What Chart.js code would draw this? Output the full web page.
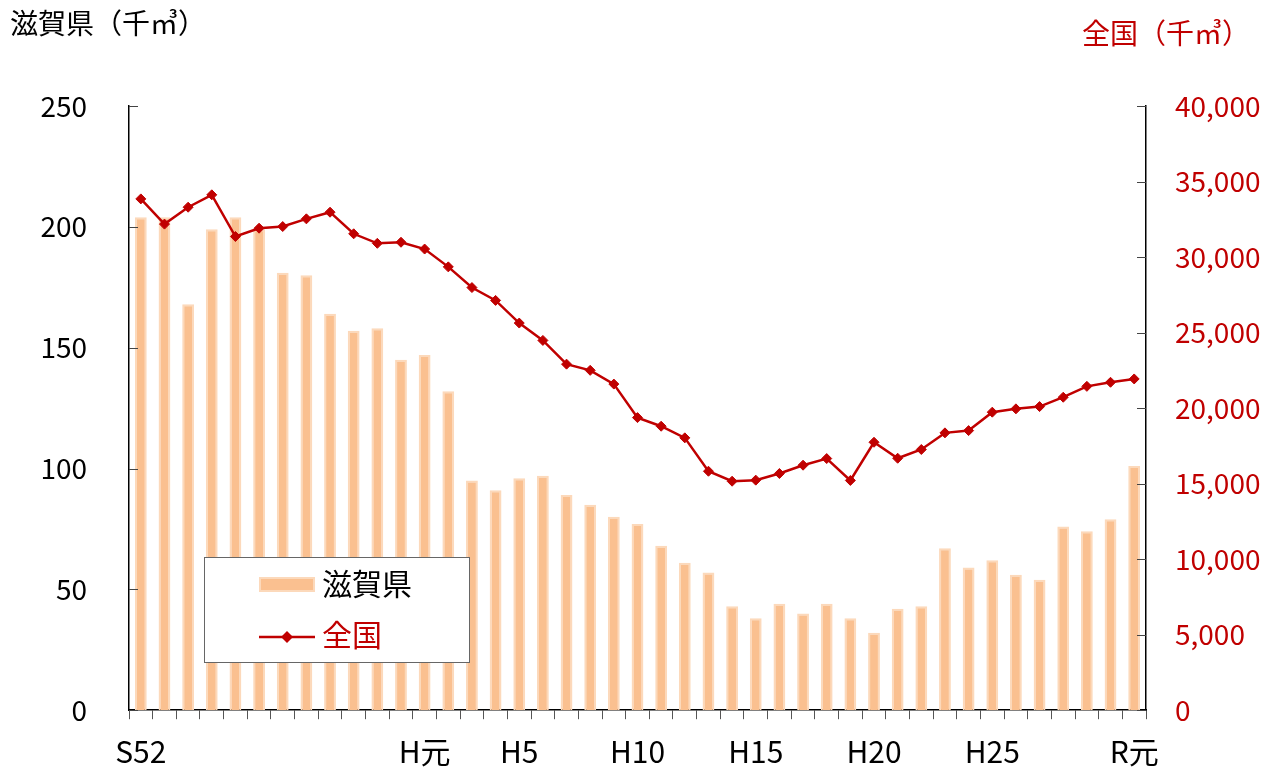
<!DOCTYPE html>
<html>
<head>
<meta charset="utf-8">
<script src="https://cdn.jsdelivr.net/npm/chart.js@4.4.0/dist/chart.umd.min.js"></script>
<style>
  html, body { margin: 0; padding: 0; background: #fff; }
</style>
</head>
<body>
<canvas id="chart" width="1267" height="769"></canvas>
<script>
// 年度ラベル S52〜S63, H元〜H30, R元
const years = []
for (let y = 52; y <= 63; y++) years.push("S" + y)
years.push("H元")
for (let y = 2; y <= 30; y++) years.push("H" + y)
years.push("R元")

const shownYears = ["S52", "H元", "H5", "H10", "H15", "H20", "H25", "R元"]

// 滋賀県 (千㎥)
const shigaValues = [204, 204, 168, 199, 204, 199, 181, 180, 164, 157, 158, 145,
  147, 132, 95, 91, 96, 97, 89, 85, 80, 77, 68, 61, 57, 43, 38, 44, 40, 44,
  38, 32, 42, 43, 67, 59, 62, 56, 54, 76, 74, 79, 101]

// 全国 (千㎥)
const nationalValues = [33850, 32180, 33300, 34120, 31360, 31910, 32020, 32530,
  32970, 31540, 30910, 30980, 30530, 29350, 27980, 27130, 25630, 24480, 22910,
  22500, 21590, 19370, 18800, 18030, 15820, 15160, 15230, 15670, 16220, 16660,
  15210, 17740, 16680, 17260, 18360, 18510, 19730, 19950, 20100, 20720, 21440,
  21710, 21930]

const RED = "#c00000"
const BAR_FILL = "#fac090"
const BAR_EDGE = "#fcd9bb"
const FONT = "'Noto Sans CJK JP', 'Noto Sans', sans-serif"

Chart.defaults.font.family = FONT

// inner tick marks on the two value axes
const innerTicks = {
  id: "innerTicks",
  afterDatasetsDraw(chart) {
    const ctx = chart.ctx
    const area = chart.chartArea
    ctx.save()
    ctx.strokeStyle = "#444"
    ctx.lineWidth = 1
    chart.scales.y.ticks.forEach(t => {
      const y = Math.round(chart.scales.y.getPixelForValue(t.value)) + 0.5
      ctx.beginPath()
      ctx.moveTo(area.left, y)
      ctx.lineTo(area.left + 9, y)
      ctx.stroke()
    })
    chart.scales.y1.ticks.forEach(t => {
      const y = Math.round(chart.scales.y1.getPixelForValue(t.value)) + 0.5
      ctx.beginPath()
      ctx.moveTo(area.right - 9, y)
      ctx.lineTo(area.right, y)
      ctx.stroke()
    })
    ctx.restore()
  },
}

// axis titles and legend box
const decorations = {
  id: "decorations",
  afterDraw(chart) {
    const ctx = chart.ctx
    ctx.save()
    ctx.textBaseline = "middle"
    ctx.font = "28px " + FONT
    ctx.fillStyle = "#000"
    ctx.textAlign = "left"
    ctx.fillText("滋賀県（千㎥）", 10, 23)
    ctx.fillStyle = RED
    ctx.fillText("全国（千㎥）", 1082, 33)

    // legend
    ctx.fillStyle = "#fff"
    ctx.fillRect(204.5, 557.5, 265, 105)
    ctx.strokeStyle = "#666"
    ctx.lineWidth = 1
    ctx.strokeRect(204.5, 557.5, 265, 105)

    ctx.fillStyle = BAR_FILL
    ctx.fillRect(260, 578, 54, 13)
    ctx.strokeStyle = BAR_EDGE
    ctx.lineWidth = 2
    ctx.strokeRect(260, 578, 54, 13)

    ctx.strokeStyle = RED
    ctx.lineWidth = 2.5
    ctx.beginPath()
    ctx.moveTo(259, 637)
    ctx.lineTo(315, 637)
    ctx.stroke()
    ctx.fillStyle = RED
    ctx.beginPath()
    ctx.moveTo(287, 631)
    ctx.lineTo(293, 637)
    ctx.lineTo(287, 643)
    ctx.lineTo(281, 637)
    ctx.closePath()
    ctx.fill()

    ctx.font = "30px " + FONT
    ctx.fillStyle = "#000"
    ctx.fillText("滋賀県", 322, 584)
    ctx.fillStyle = RED
    ctx.fillText("全国", 322, 635)
    ctx.restore()
  },
}

new Chart(document.getElementById("chart"), {
  type: "bar",
  data: {
    labels: years,
    datasets: [
      {
        type: "line",
        label: "全国",
        data: nationalValues,
        yAxisID: "y1",
        borderColor: RED,
        backgroundColor: RED,
        borderWidth: 2.5,
        pointStyle: "rectRot",
        pointRadius: 5,
        pointBorderWidth: 1,
        tension: 0,
        order: 0,
      },
      {
        type: "bar",
        label: "滋賀県",
        data: shigaValues,
        yAxisID: "y",
        backgroundColor: BAR_FILL,
        borderColor: BAR_EDGE,
        borderWidth: 2,
        barPercentage: 0.5,
        categoryPercentage: 1,
        order: 1,
      },
    ],
  },
  options: {
    responsive: false,
    animation: false,
    layout: { padding: { top: 106, left: 0, right: 0, bottom: 0 } },
    plugins: {
      legend: { display: false },
      tooltip: { enabled: false },
    },
    scales: {
      x: {
        offset: true,
        grid: {
          display: true,
          drawOnChartArea: false,
          drawTicks: true,
          tickLength: 9,
          color: "#555",
          offset: true,
        },
        border: { display: true, color: "#000", width: 1.5 },
        ticks: {
          autoSkip: false,
          maxRotation: 0,
          minRotation: 0,
          padding: 14,
          color: "#000",
          font: { size: 30 },
          callback: function (value, index) {
            const lab = years[index]
            return shownYears.includes(lab) ? lab : ""
          },
        },
        afterFit: scale => { scale.height = 58 },
      },
      y: {
        position: "left",
        min: 0,
        max: 250,
        grid: { display: false, drawTicks: false },
        border: { display: true, color: "#000", width: 1.5 },
        ticks: {
          stepSize: 50,
          padding: 42,
          color: "#000",
          font: { size: 28 },
        },
        afterFit: scale => { scale.width = 129 },
      },
      y1: {
        position: "right",
        min: 0,
        max: 40000,
        grid: { display: false, drawTicks: false },
        border: { display: true, color: "#000", width: 1.5 },
        ticks: {
          stepSize: 5000,
          padding: 29,
          color: RED,
          font: { size: 28 },
          callback: v => v.toLocaleString("en-US"),
        },
        afterFit: scale => { scale.width = 121 },
      },
    },
  },
  plugins: [innerTicks, decorations],
})
</script>
</body>
</html>
